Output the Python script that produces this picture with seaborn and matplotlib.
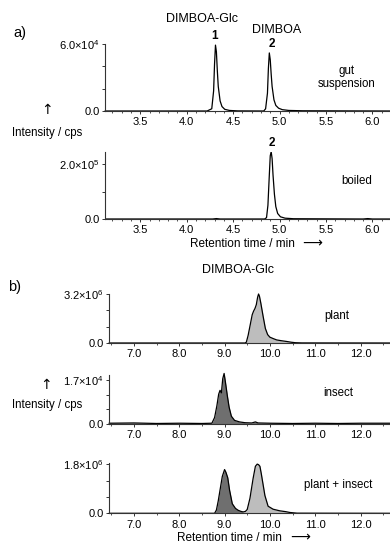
import numpy as np
import matplotlib
matplotlib.use("Agg")
import matplotlib.pyplot as plt
import seaborn as sns

sns.set_style("ticks")
plt.rcParams['font.family'] = ['Liberation Sans', 'DejaVu Sans']
plt.rcParams['mathtext.fontset'] = 'custom'
plt.rcParams['mathtext.rm'] = 'Liberation Sans'
plt.rcParams['mathtext.it'] = 'Liberation Sans'

# ---------------- data ----------------
# panel a) gut suspension, intensity in units of 1e4 cps
gut_t = [3.12, 4.22, 4.27, 4.29, 4.30, 4.31, 4.32, 4.33, 4.34, 4.36, 4.38, 4.41, 4.46, 4.55,
         4.83, 4.85, 4.87, 4.88, 4.89, 4.90, 4.91, 4.92, 4.94, 4.96, 4.99, 5.03, 5.10, 5.25, 6.19]
gut_i = [0, 0, 0.2, 1.8, 4.2, 5.9, 5.3, 3.6, 2.2, 0.9, 0.4, 0.15, 0.05, 0.01,
         0, 0.2, 1.6, 3.8, 5.2, 4.6, 3.3, 2.2, 1.0, 0.5, 0.25, 0.12, 0.05, 0.02, 0]
# panel a) boiled, intensity in units of 1e5 cps
boil_t = [3.12, 4.28, 4.32, 4.36, 4.84, 4.86, 4.875, 4.89, 4.90, 4.91, 4.92, 4.93, 4.945,
          4.96, 4.98, 5.01, 5.06, 5.15, 5.90, 5.95, 6.00, 6.19]
boil_i = [0, 0, 0.015, 0, 0, 0.05, 0.5, 1.6, 2.3, 2.45, 2.2, 1.6, 0.9,
          0.45, 0.2, 0.08, 0.03, 0.01, 0, 0.015, 0, 0]

# panel b) plant, units of 1e6 cps
plant_t = [6.45, 9.45, 9.48, 9.52, 9.57, 9.61, 9.64, 9.67, 9.70, 9.73, 9.75, 9.77, 9.80, 9.85,
           9.90, 9.95, 10.00, 10.08, 10.15, 10.25, 10.37, 10.47, 10.56, 10.70, 12.65]
plant_i = [0, 0, 0.05, 0.5, 1.25, 1.85, 2.08, 2.25, 2.5, 3.0, 3.2, 3.05, 2.6, 1.75,
           0.95, 0.55, 0.38, 0.28, 0.2, 0.15, 0.1, 0.05, 0.02, 0.005, 0]
# panel b) insect, units of 1e4 cps
insect_t = [6.45, 7.0, 7.5, 8.0, 8.5, 8.72, 8.78, 8.83, 8.87, 8.90, 8.93, 8.96, 8.99, 9.02,
            9.06, 9.10, 9.15, 9.22, 9.33, 9.45, 9.60, 9.68, 9.74, 10.0, 10.5, 11.0, 11.5, 12.0, 12.65]
insect_i = [0.03, 0.04, 0.02, 0.03, 0.02, 0.03, 0.25, 0.7, 1.15, 1.3, 1.2, 1.75, 1.95, 1.6,
            1.1, 0.65, 0.3, 0.14, 0.08, 0.05, 0.04, 0.08, 0.04, 0.03, 0.02, 0.03, 0.02, 0.03, 0.03]
# panel b) plant + insect, units of 1e6 cps
mix_t = [6.45, 8.78, 8.82, 8.86, 8.90, 8.95, 9.00, 9.03, 9.07, 9.11, 9.17, 9.24, 9.30, 9.36,
         9.41, 9.46, 9.50, 9.56, 9.63, 9.68, 9.72, 9.75, 9.78, 9.81, 9.85, 9.89, 9.96, 10.07,
         10.22, 10.35, 10.44, 10.60, 12.65]
mix_i = [0, 0, 0.12, 0.45, 0.85, 1.35, 1.6, 1.5, 1.3, 0.85, 0.35, 0.18, 0.11, 0.07,
         0.05, 0.07, 0.14, 0.55, 1.28, 1.72, 1.8, 1.78, 1.72, 1.45, 1.05, 0.65, 0.26, 0.15,
         0.09, 0.06, 0.03, 0.005, 0]
mix_split = 9.41   # boundary between insect (dark) and plant (light) fill

a_xticks = [3.5, 4.0, 4.5, 5.0, 5.5, 6.0]
b_xticks = [7.0, 8.0, 9.0, 10.0, 11.0, 12.0]

W, H = 390, 546
fig = plt.figure(figsize=(W / 100, H / 100), dpi=100)

def px_axes(left, top, bottom, right=W):
    return fig.add_axes([left / W, 1 - bottom / H, (right - left) / W, (bottom - top) / H])

def style(ax, xlim, ylim, yticks, ylabels, xticks, minor_step):
    ax.set_xticks(xticks)
    ax.set_xticklabels([f"{v:.1f}" for v in xticks])
    ax.set_xticks(np.arange(xticks[0] - 10 * minor_step, xlim[1], minor_step), minor=True)
    ax.set_yticks(yticks)
    ax.set_yticklabels(ylabels)
    ax.set_xlim(*xlim)
    ax.set_ylim(*ylim)
    ax.set_xlabel("")
    ax.set_ylabel("")
    for s in ["top", "right"]:
        ax.spines[s].set_visible(False)
    for s in ["left", "bottom"]:
        ax.spines[s].set_linewidth(0.8)
        ax.spines[s].set_color("#333333")
    ax.tick_params(axis="both", which="major", labelsize=8, length=2.5, width=0.7,
                   pad=2, colors="#333333", labelcolor="black")
    ax.tick_params(axis="y", which="major", length=2)
    ax.tick_params(axis="x", which="minor", length=1.5, width=0.6, colors="#333333")
    ax.set_facecolor("none")

def ftext(x, y, s, size=8, ha="center", va="center", **kw):
    fig.text(x / W, 1 - y / H, s, fontsize=size, ha=ha, va=va, color="black", **kw)

# ---- a) gut suspension
ax = px_axes(105, 44, 111)
sns.lineplot(x=np.array(gut_t), y=np.array(gut_i) * 1e4, ax=ax, color="black", lw=0.9,
             estimator=None, sort=False)
style(ax, (3.12, 6.19), (0, 6e4), np.linspace(0, 6e4, 4),
      ["0.0", "", "", "6.0×10$^4$"], a_xticks, 0.1)
for l in ax.lines:
    l.set_clip_on(False)

# ---- a) boiled
ax = px_axes(105, 151.7, 219)
sns.lineplot(x=np.array(boil_t), y=np.array(boil_i) * 1e5, ax=ax, color="black", lw=0.9,
             estimator=None, sort=False)
style(ax, (3.12, 6.19), (0, 2.45e5), np.linspace(0, 2e5, 3),
      ["0.0", "", "2.0×10$^5$"], a_xticks, 0.1)

# ---- b) plant
LIGHT, DARK = "#bdbdbd", "#6f6f6f"
ax = px_axes(109, 294, 343)
pt, pi = np.array(plant_t), np.array(plant_i) * 1e6
ax.fill_between(pt, pi, color=LIGHT, lw=0)
sns.lineplot(x=pt, y=pi, ax=ax, color="black", lw=0.9, estimator=None, sort=False)
style(ax, (6.45, 12.65), (0, 3.2e6), np.linspace(0, 3.2e6, 4),
      ["0.0", "", "", "3.2×10$^6$"], b_xticks, 0.5)
for l in ax.lines:
    l.set_clip_on(False)

# ---- b) insect
ax = px_axes(109, 375, 424)
it, ii = np.array(insect_t), np.array(insect_i) * 1e4
ax.fill_between(it, ii, color=DARK, lw=0)
sns.lineplot(x=it, y=ii, ax=ax, color="black", lw=0.9, estimator=None, sort=False)
style(ax, (6.45, 12.65), (0, 1.89e4), np.linspace(0, 1.7e4, 4),
      ["0.0", "", "", "1.7×10$^4$"], b_xticks, 0.5)
for l in ax.lines:
    l.set_clip_on(False)

# ---- b) plant + insect
ax = px_axes(109, 463.3, 513.3)
mt, mi = np.array(mix_t), np.array(mix_i) * 1e6
ax.fill_between(mt, mi, where=mt <= mix_split, color=DARK, lw=0, interpolate=True)
ax.fill_between(mt, mi, where=mt >= mix_split, color=LIGHT, lw=0, interpolate=True)
sns.lineplot(x=mt, y=mi, ax=ax, color="black", lw=0.9, estimator=None, sort=False)
style(ax, (6.45, 12.65), (0, 1.83e6), np.linspace(0, 1.8e6, 4),
      ["0.0", "", "", "1.8×10$^6$"], b_xticks, 0.5)
for l in ax.lines:
    l.set_clip_on(False)

# ---- annotations
ftext(13, 33, "a)", size=10.5, ha="left")
ftext(202, 19, "DIMBOA-Glc", size=9)
ftext(215, 36, "1", size=8.5, weight="bold")
ftext(277, 30, "DIMBOA", size=9)
ftext(272, 44, "2", size=8.5, weight="bold")
ftext(347, 77.5, "gut\nsuspension", size=8.3, linespacing=1.15)
ftext(272, 142.5, "2", size=8.5, weight="bold")
ftext(357, 181, "boiled", size=8.3)
ftext(47, 110, "↑", size=10, family=["DejaVu Sans"])
ftext(12, 133, "Intensity / cps", size=8.3, ha="left")
ftext(190, 244, "Retention time / min", size=8.5, ha="left")
ftext(312, 243, "⟶", size=10, family=["DejaVu Sans"])

ftext(8, 287, "b)", size=10.5, ha="left")
ftext(238, 270, "DIMBOA-Glc", size=9)
ftext(337, 316, "plant", size=8.3)
ftext(338, 393, "insect", size=8.3)
ftext(338, 485, "plant + insect", size=8.3)
ftext(46, 385, "↑", size=10, family=["DejaVu Sans"])
ftext(12, 405, "Intensity / cps", size=8.3, ha="left")
ftext(177, 538, "Retention time / min", size=8.5, ha="left")
ftext(300, 537, "⟶", size=10, family=["DejaVu Sans"])

fig.savefig("out.png", dpi=100)
